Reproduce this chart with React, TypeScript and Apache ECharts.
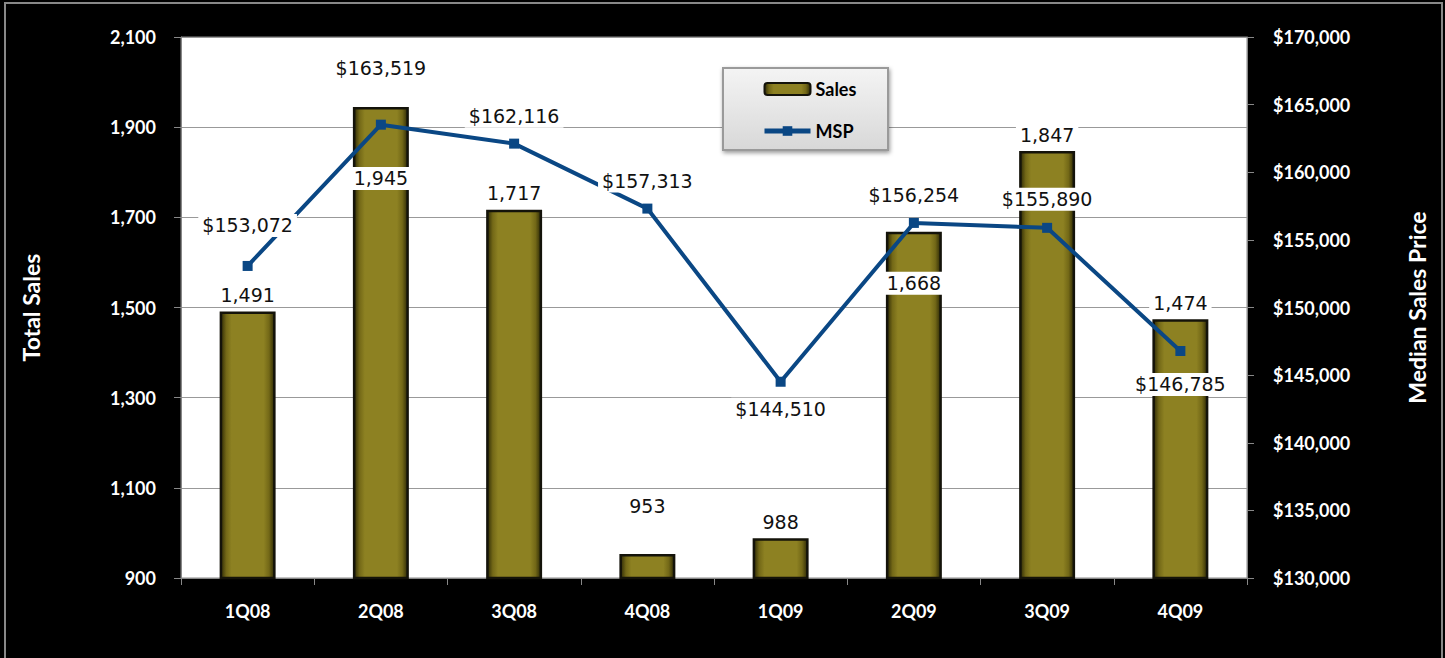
import React, { useEffect, useRef } from "react";
import * as echarts from "echarts";

const quarters = ["1Q08", "2Q08", "3Q08", "4Q08", "1Q09", "2Q09", "3Q09", "4Q09"];
const totalSales = [1491, 1945, 1717, 953, 988, 1668, 1847, 1474];
const medianPrice = [153072, 163519, 162116, 157313, 144510, 156254, 155890, 146785];

// label placement tweaks (layout only)
const salesLabelShift = [0, 88, 0, -32, 0, 68, 0, 0];
const priceLabelPos = ["top", "top", "top", "top", "bottom", "top", "top", "bottom"];
const priceLabelDist = [24, 40, 11, 11, 11, 11, 12, 17];

const fmtNum = (v: number) => v.toLocaleString("en-US");
const fmtMoney = (v: number) => "$" + v.toLocaleString("en-US");

export default function App() {
  const ref = useRef<HTMLDivElement>(null);
  useEffect(() => {
    if (!ref.current) return;
    const chart = echarts.init(ref.current, null, { renderer: "svg" });
    const labelBase = {
      show: true,
      fontFamily: "DejaVu Sans",
      fontSize: 19,
      color: "#111",
      backgroundColor: "#fff",
      padding: [2, 4],
    };
    const barGrad = new echarts.graphic.LinearGradient(0, 0, 1, 0, [
      { offset: 0, color: "#2e2a06" },
      { offset: 0.1, color: "#736817" },
      { offset: 0.2, color: "#8d8122" },
      { offset: 0.8, color: "#8d8122" },
      { offset: 0.9, color: "#736817" },
      { offset: 1, color: "#2e2a06" },
    ]);
    const axisLabel = { color: "#fff", fontFamily: "Lato", fontWeight: "bold", fontSize: 18 };
    const titleStyle = { color: "#fff", fontFamily: "Lato", fontWeight: "bold", fontSize: 23 };
    chart.setOption({
      animation: false,
      backgroundColor: "#000",
      grid: {
        left: 181,
        right: 198,
        top: 37,
        bottom: 80,
        show: true,
        backgroundColor: "#fff",
        borderColor: "#888",
        borderWidth: 1,
      },
      graphic: [
        {
          type: "rect",
          shape: { x: 5, y: 3, width: 1437, height: 700 },
          style: { fill: "none", stroke: "#888", lineWidth: 2 },
          silent: true,
          z: 0,
        },
        {
          type: "rect",
          shape: { x: 723, y: 68, width: 165, height: 82 },
          style: {
            fill: new echarts.graphic.LinearGradient(0, 0, 0, 1, [
              { offset: 0, color: "#f4f4f4" },
              { offset: 1, color: "#d8d8d8" },
            ]),
            stroke: "#9a9a9a",
            lineWidth: 2,
            shadowBlur: 4,
            shadowColor: "rgba(0,0,0,0.4)",
            shadowOffsetX: 1,
            shadowOffsetY: 2,
          },
          z: 5,
        },
      ],
      legend: {
        orient: "vertical",
        left: 757,
        top: 75,
        itemWidth: 46,
        itemHeight: 12,
        itemGap: 24,
        z: 6,
        textStyle: { fontFamily: "Lato", fontWeight: "bold", fontSize: 18, color: "#000" },
        data: [
          { name: "Sales" },
          { name: "MSP", lineStyle: { width: 5 } },
        ],
      },
      xAxis: {
        type: "category",
        data: quarters,
        axisLine: { lineStyle: { color: "#888", width: 1 } },
        axisTick: { show: true, length: 7, lineStyle: { color: "#888" } },
        axisLabel: { ...axisLabel, margin: 24 },
      },
      yAxis: [
        {
          type: "value",
          min: 900,
          max: 2100,
          interval: 200,
          name: "Total Sales",
          nameLocation: "middle",
          nameGap: 139,
          nameRotate: 90,
          nameTextStyle: titleStyle,
          axisLine: { show: true, lineStyle: { color: "#888" } },
          axisTick: { show: true, length: 7, lineStyle: { color: "#888" } },
          axisLabel: { ...axisLabel, margin: 25, formatter: (v: number) => fmtNum(v) },
          splitLine: { show: true, lineStyle: { color: "#999", width: 1 } },
        },
        {
          type: "value",
          min: 130000,
          max: 170000,
          interval: 5000,
          name: "Median Sales Price",
          nameLocation: "middle",
          nameGap: 158,
          nameRotate: 90,
          nameTextStyle: titleStyle,
          axisLine: { show: true, lineStyle: { color: "#888" } },
          axisTick: { show: true, length: 7, lineStyle: { color: "#888" } },
          axisLabel: { ...axisLabel, margin: 26, formatter: (v: number) => fmtMoney(v) },
          splitLine: { show: false },
        },
      ],
      series: [
        {
          name: "Sales",
          type: "bar",
          yAxisIndex: 0,
          barWidth: "42%",
          itemStyle: { color: barGrad, borderColor: "#14130a", borderWidth: 2.5 },
          data: totalSales.map((v, i) => ({
            value: v,
            label: { ...labelBase, position: "top", distance: 5, offset: [0, salesLabelShift[i]], formatter: () => fmtNum(v) },
          })),
          z: 2,
        },
        {
          name: "MSP",
          type: "line",
          yAxisIndex: 1,
          symbol: "rect",
          symbolSize: 10,
          lineStyle: { color: "#0a4784", width: 4 },
          itemStyle: { color: "#0a4784" },
          data: medianPrice.map((v, i) => ({
            value: v,
            label: {
              ...labelBase,
              position: priceLabelPos[i],
              distance: priceLabelDist[i],
              formatter: () => fmtMoney(v),
            },
          })),
          z: 3,
        },
      ],
    });
    return () => chart.dispose();
  }, []);
  return (
    <div
      ref={ref}
      style={{ position: "fixed", left: 0, top: 0, width: 1445, height: 658, background: "#000" }}
    />
  );
}
